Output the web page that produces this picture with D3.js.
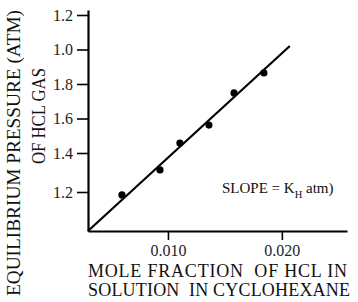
<!DOCTYPE html>
<html>
<head>
<meta charset="utf-8">
<script src="https://cdn.jsdelivr.net/npm/d3@7"></script>
<style>
  html, body { margin: 0; padding: 0; background: #fff; }
  svg { display: block; }
  svg text { font-family: "Liberation Serif", "DejaVu Serif", "Times New Roman", Times, serif; }
</style>
</head>
<body>
<div id="chart"></div>
<script>
// Data
const moleFraction = [0.00596, 0.0093, 0.01105, 0.0136, 0.0158, 0.01842];
const pressure     = [1.185, 1.313, 1.458, 1.562, 1.748, 1.864];
const fitX = [0.00298, 0.0207];
const fitY = [1.0, 2.02];
const xTickValues = [0.010, 0.020];
const xTickLabels = ["0.010", "0.020"];
const yTickValues = [1.2, 1.4, 1.6, 1.8, 2.0, 2.2];
const yTickLabels = ["1.2", "1.4", "1.6", "1.8", "1.0", "1.2"];
const yTitle = ["EQUILIBRIUM PRESSURE (ATM)", "OF HCL GAS"];
const xTitle = ["MOLE FRACTION  OF HCL IN", "SOLUTION  IN CYCLOHEXANE"];

const FONT = "'Liberation Serif', 'DejaVu Serif', 'Times New Roman', Times, serif";
const W = 358, H = 302;
const svg = d3.select("#chart").append("svg").attr("width", W).attr("height", H)
  .attr("font-family", FONT);

const x = d3.scaleLinear().domain([0.00298, 0.02572]).range([88, 347]);
const y = d3.scaleLinear().domain([1.0, 1.4, 2.229]).range([231, 153, 10]);

// X axis
const xAxis = svg.append("g").attr("transform", `translate(0,${y(1.0)})`)
  .call(d3.axisBottom(x).tickValues(xTickValues)
    .tickFormat((d, i) => xTickLabels[i]).tickSize(9).tickSizeOuter(0).tickPadding(5));
xAxis.attr("font-family", FONT).attr("font-size", 16);
xAxis.select(".domain").attr("stroke", "#000").attr("stroke-width", 2.2);
xAxis.selectAll(".tick line").attr("stroke", "#000").attr("stroke-width", 1.6);
xAxis.selectAll(".tick text").attr("fill", "#222");

// Y axis
const yAxis = svg.append("g").attr("transform", `translate(${x(0.00298)},0)`)
  .call(d3.axisLeft(y).tickValues(yTickValues)
    .tickFormat((d, i) => yTickLabels[i]).tickSize(11).tickSizeOuter(0).tickPadding(4));
yAxis.attr("font-family", FONT).attr("font-size", 16);
yAxis.select(".domain").attr("stroke", "#000").attr("stroke-width", 2.2);
yAxis.selectAll(".tick line").attr("stroke", "#000").attr("stroke-width", 1.6);
yAxis.selectAll(".tick text").attr("fill", "#222");

// Fit line
svg.append("path")
  .datum(fitX.map((v, i) => [v, fitY[i]]))
  .attr("fill", "none").attr("stroke", "#000").attr("stroke-width", 2.2)
  .attr("d", d3.line().x(d => x(d[0])).y(d => y(d[1])));

// Points
svg.selectAll("circle.pt").data(moleFraction).join("circle")
  .attr("class", "pt")
  .attr("cx", d => x(d))
  .attr("cy", (d, i) => y(pressure[i]))
  .attr("r", 3.6).attr("fill", "#000");

// Slope annotation
const slope = svg.append("text").attr("x", 222).attr("y", 193)
  .attr("fill", "#111").attr("font-size", 15);
slope.append("tspan").text("SLOPE = K");
slope.append("tspan").attr("dy", 5).attr("font-size", 10.5).text("H");
slope.append("tspan").attr("dy", -5).text(" atm)");

// X title
svg.append("text").attr("x", 88).attr("y", 277).attr("fill", "#111")
  .attr("font-size", 18).attr("textLength", 259).attr("lengthAdjust", "spacing")
  .style("white-space", "pre")
  .text(xTitle[0]);
svg.append("text").attr("x", 88).attr("y", 296).attr("fill", "#111")
  .attr("font-size", 18).attr("textLength", 262).attr("lengthAdjust", "spacing")
  .style("white-space", "pre")
  .text(xTitle[1]);

// Y title
svg.append("text").attr("transform", "translate(20,153) rotate(-90)")
  .attr("text-anchor", "middle").attr("fill", "#111").attr("font-size", 18.5)
  .attr("textLength", 286).attr("lengthAdjust", "spacingAndGlyphs")
  .text(yTitle[0]);
svg.append("text").attr("transform", "translate(45,116) rotate(-90)")
  .attr("text-anchor", "middle").attr("fill", "#111").attr("font-size", 18.5)
  .attr("textLength", 96).attr("lengthAdjust", "spacingAndGlyphs")
  .text(yTitle[1]);
</script>
</body>
</html>
